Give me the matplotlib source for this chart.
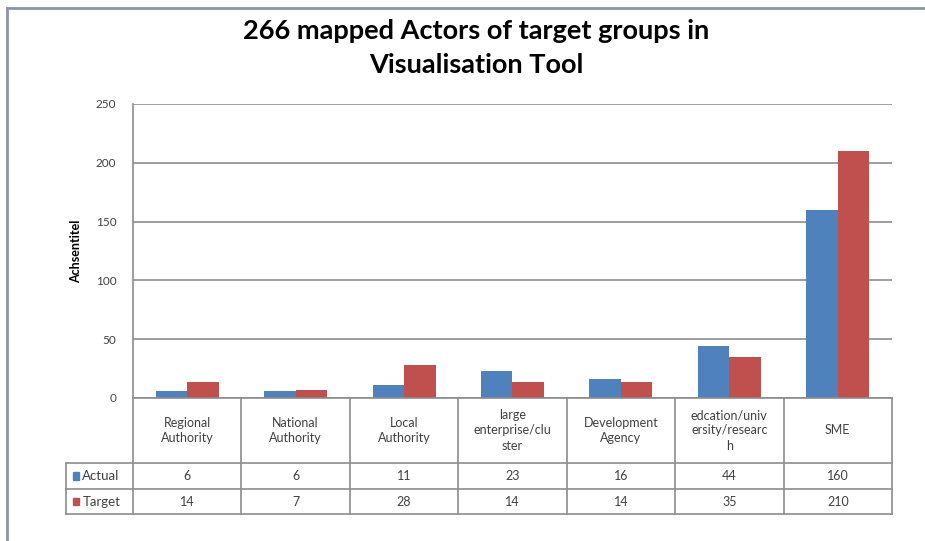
import matplotlib.pyplot as plt
import numpy as np
from matplotlib.lines import Line2D
from matplotlib.patches import Rectangle

categories = ["Regional\nAuthority", "National\nAuthority", "Local\nAuthority",
              "large\nenterprise/clu\nster", "Development\nAgency",
              "edcation/univ\nersity/researc\nh", "SME"]
series_names = ["Actual", "Target"]
actual = [6, 6, 11, 23, 16, 44, 160]
target = [14, 7, 28, 14, 14, 35, 210]
yticks = [0, 50, 100, 150, 200, 250]

colors = ["#4F81BD", "#C0504D"]
grid_c = "#8c8c8c"
text_c = "#404040"

plt.rcParams["font.family"] = ["Lato", "DejaVu Sans"]

W, H = 925, 541
fig = plt.figure(figsize=(W / 100, H / 100), dpi=100)
ax = fig.add_axes([133 / W, 1 - 398 / H, (892 - 133) / W, (398 - 104) / H])

x = np.arange(len(categories))
bw = 0.29
ax.bar(x - bw / 2, actual, bw, color=colors[0], label=series_names[0])
ax.bar(x + bw / 2, target, bw, color=colors[1], label=series_names[1])

ax.set_xlim(-0.5, len(categories) - 0.5)
ax.set_ylim(0, 250)
ax.set_yticks(yticks)
ax.set_xticks([])
ax.tick_params(axis="y", length=0, pad=12, labelsize=8.5, labelcolor=text_c)
ax.yaxis.grid(True, color=grid_c, linewidth=1.2)
ax.set_axisbelow(True)
for s in ["top", "right", "bottom"]:
    ax.spines[s].set_visible(False)
ax.spines["left"].set_color(grid_c)
ax.spines["left"].set_linewidth(1.2)
ax.set_ylabel("Achsentitel", fontsize=9, fontweight="bold", labelpad=10)

# data table under the plot
tr = ax.get_xaxis_transform()
n = len(categories)
r0, r1, r2, r3 = 0.0, -65 / 294, -91 / 294, -116 / 294
left_x = -1.118
lw = 1.2
# horizontal lines
ax.add_line(Line2D([-0.5, n - 0.5], [r0, r0], transform=tr, color=grid_c, lw=lw, clip_on=False))
for yy in [r1, r2, r3]:
    ax.add_line(Line2D([left_x, n - 0.5], [yy, yy], transform=tr, color=grid_c, lw=lw, clip_on=False))
# vertical lines
for i in range(n + 1):
    ax.add_line(Line2D([i - 0.5, i - 0.5], [r0, r3], transform=tr, color=grid_c, lw=lw, clip_on=False))
ax.add_line(Line2D([left_x, left_x], [r1, r3], transform=tr, color=grid_c, lw=lw, clip_on=False))

for i, cat in enumerate(categories):
    ax.text(i, (r0 + r1) / 2, cat, transform=tr, ha="center", va="center",
            fontsize=9, color=text_c, linespacing=1.35, clip_on=False)
    ax.text(i, (r1 + r2) / 2, str(actual[i]), transform=tr, ha="center", va="center",
            fontsize=9, color=text_c, clip_on=False)
    ax.text(i, (r2 + r3) / 2, str(target[i]), transform=tr, ha="center", va="center",
            fontsize=9, color=text_c, clip_on=False)

for k, (yy0, yy1) in enumerate([(r1, r2), (r2, r3)]):
    ym = (yy0 + yy1) / 2
    ax.add_patch(Rectangle((left_x + 0.065, ym - 0.013), 0.055, 0.026, transform=tr,
                           color=colors[k], clip_on=False))
    ax.text(left_x + 0.15, ym, series_names[k], transform=tr, ha="left", va="center",
            fontsize=9.5, color=text_c, clip_on=False)

fig.text(476 / W, 1 - 48 / H, "266 mapped Actors of target groups in\nVisualisation Tool",
         ha="center", va="center", fontsize=19.5, fontweight="bold", linespacing=1.5)

# outer frame
frame_c = "#8a96a3"
fig.add_artist(Line2D([7 / W, 7 / W], [0, 1 - 8 / H], transform=fig.transFigure, color=frame_c, lw=2))
fig.add_artist(Line2D([7 / W, 1], [1 - 8 / H, 1 - 8 / H], transform=fig.transFigure, color=frame_c, lw=2))

fig.savefig("out.png", dpi=100)
